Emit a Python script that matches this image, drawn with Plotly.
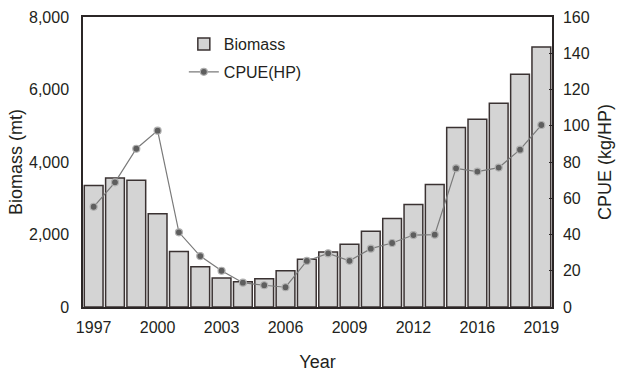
import plotly.graph_objects as go

# Survey years (no 2014 entry in the series)
years = ["1997", "1998", "1999", "2000", "2001", "2002", "2003", "2004", "2005",
         "2006", "2007", "2008", "2009", "2010", "2011", "2012", "2013", "2015",
         "2016", "2017", "2018", "2019"]

# Biomass, metric tons (left axis)
biomass = [3350, 3560, 3500, 2570, 1530, 1110, 800, 700, 780, 1000, 1320,
           1520, 1730, 2090, 2440, 2830, 3380, 4950, 5180, 5620, 6420, 7170]

# CPUE, kg per horsepower (right axis)
cpue = [55.3, 68.8, 87.3, 97.3, 41.2, 28.1, 20.0, 13.4, 12.0, 10.9, 25.4,
        29.6, 25.5, 32.2, 35.3, 39.7, 39.9, 76.5, 74.7, 76.9, 86.8, 100.4]

tick_years = ["1997", "2000", "2003", "2006", "2009", "2012", "2016", "2019"]

FONT = "Liberation Sans, Arial, sans-serif"
AXIS = "#2b2626"

fig = go.Figure()
fig.add_trace(go.Bar(
    x=years, y=biomass, name="Biomass", legendgroup="b",
    marker=dict(color="#d4d4d4", line=dict(color="#3a3232", width=1.5)),
))
fig.add_trace(go.Scatter(
    x=years, y=cpue, name="CPUE(HP)", yaxis="y2", mode="lines+markers",
    legendgroup="c",
    line=dict(color="#7a7a7a", width=1.2),
    marker=dict(color="#5e5e5e", size=7, line=dict(color="#b0b0b0", width=1.2)),
))

fig.update_layout(
    width=617, height=376,
    margin=dict(l=83, r=65, t=17, b=69),
    paper_bgcolor="white", plot_bgcolor="white",
    font=dict(family=FONT, size=16, color="#231f20"),
    bargap=0.12,
    showlegend=True,
    legend=dict(x=0.215, y=0.965, xanchor="left", yanchor="top",
                bgcolor="rgba(0,0,0,0)", font=dict(size=16),
                tracegroupgap=4, itemwidth=30),
    xaxis=dict(
        type="category", categoryorder="array", categoryarray=years,
        range=[-0.5, len(years) - 0.5], automargin=False,
        tickmode="array", tickvals=tick_years, ticktext=tick_years,
        showline=True, linecolor=AXIS, linewidth=1.5, mirror=True,
        ticks="", ticklabelstandoff=5, showgrid=False,
        title=dict(text="Year", font=dict(size=18), standoff=20),
    ),
    yaxis=dict(
        range=[0, 8000], tickvals=[0, 2000, 4000, 6000, 8000],
        tickformat=",", showline=True, linecolor=AXIS, linewidth=1.5,
        ticks="", ticklabelstandoff=9, showgrid=False, zeroline=False,
        automargin=False,
        title=dict(text="Biomass (mt)", font=dict(size=18), standoff=2),
    ),
    yaxis2=dict(
        range=[0, 160], tickvals=[0, 20, 40, 60, 80, 100, 120, 140, 160],
        overlaying="y", side="right", automargin=False,
        showline=True, linecolor=AXIS, linewidth=1.5,
        ticks="inside", ticklen=3, tickcolor=AXIS, ticklabelstandoff=6,
        showgrid=False, zeroline=False,
        title=dict(text="CPUE (kg/HP)", font=dict(size=18), standoff=10),
    ),
)

fig.write_html("out.html")
